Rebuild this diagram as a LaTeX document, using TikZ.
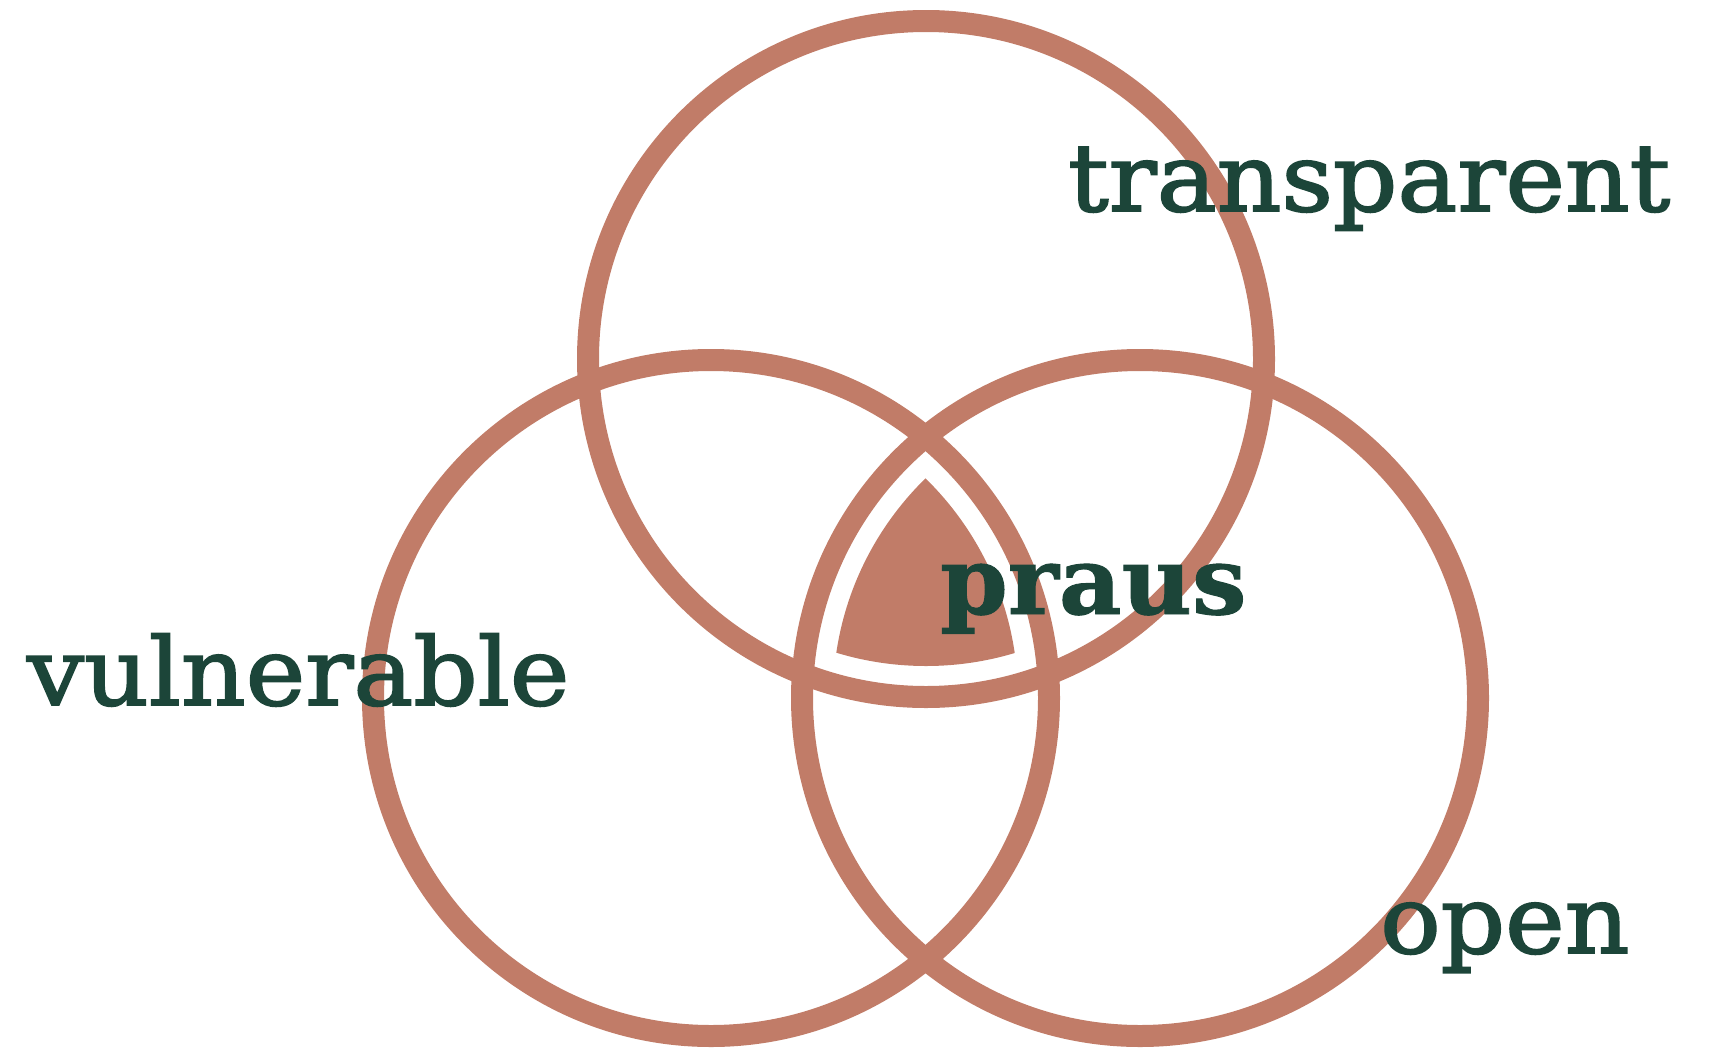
\documentclass[tikz,border=0pt]{standalone}
\usepackage{fontspec}
\setmainfont{DejaVu Serif}
\newfontfamily\medserif[FakeBold=2,FakeStretch=1.07]{DejaVu Serif}
\newfontfamily\heavyserif[FakeBold=1,FakeStretch=1.03]{DejaVu Serif Bold}
\definecolor{terra}{HTML}{C17C68}
\definecolor{ink}{HTML}{1C4539}
\tikzset{
  ring/.style={draw=terra, line width=22pt},
  lbl/.style={text=ink, inner sep=0pt, anchor=base west, font=\medserif\fontsize{94}{100}\selectfont},
  boldlbl/.style={lbl, font=\heavyserif\fontsize{94}{100}\selectfont}
}
\begin{document}
\begin{tikzpicture}[x=1pt,y=-1pt]
\useasboundingbox (0,0) rectangle (1713,1047);
\clip (0,0) rectangle (1713,1047);
\coordinate (ct) at (926,359);
\coordinate (cl) at (711,698);
\coordinate (cr) at (1140,698);
\draw[ring] (ct) circle[radius=338pt];
\draw[ring] (cl) circle[radius=338pt];
\draw[ring] (cr) circle[radius=338pt];
\begin{scope}
  \clip (ct) circle[radius=307pt];
  \clip (cl) circle[radius=307pt];
  \fill[terra] (cr) circle[radius=307pt];
\end{scope}
\node[lbl] (transparent) at (1068,211) {transparent};
\node[lbl] (vulnerable) at (27,705) {vulnerable};
\node[boldlbl] (praus) at (940,614) {praus};
\node[lbl] (open) at (1380,953) {open};
\end{tikzpicture}
\end{document}
